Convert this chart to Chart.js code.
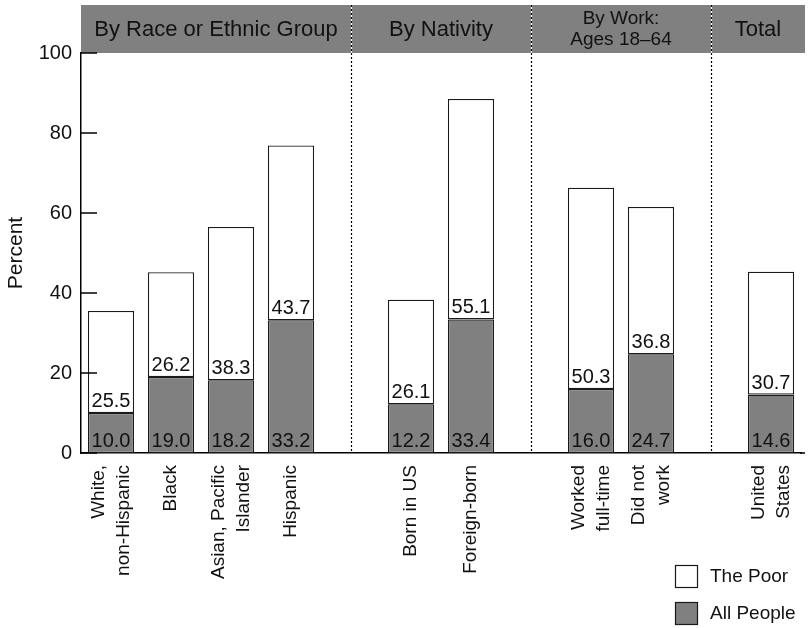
<!DOCTYPE html>
<html>
<head>
<meta charset="utf-8">
<script src="https://cdn.jsdelivr.net/npm/chart.js@4.4.1/dist/chart.umd.min.js"></script>
<style>
  html, body { margin: 0; padding: 0; background: #ffffff; }
  #wrap { width: 808px; height: 628px; }
</style>
</head>
<body>
<div id="wrap"><canvas id="chart" width="808" height="628"></canvas></div>
<script>
// Categories along the x axis; empty strings leave a gap between groups
const categories = [
  ['White,', 'non-Hispanic'], 'Black', ['Asian, Pacific', 'Islander'], 'Hispanic',
  '',
  'Born in US', 'Foreign-born',
  '',
  ['Worked', 'full-time'], ['Did not', 'work'],
  '',
  ['United', 'States']
];

// Percent of all people (grey, bottom segment)
const allPeople = [10.0, 19.0, 18.2, 33.2, null, 12.2, 33.4, null, 16.0, 24.7, null, 14.6];
// Percent of the poor (white, stacked on top)
const thePoor = [25.5, 26.2, 38.3, 43.7, null, 26.1, 55.1, null, 50.3, 36.8, null, 30.7];

// Group headings shown in the band above the plot
const groupTitles = [
  ['By Race or Ethnic Group'],
  ['By Nativity'],
  ['By Work:', 'Ages 18\u201364'],
  ['Total']
];

const yTicks = [0, 20, 40, 60, 80, 100];

const FONT = '"Liberation Sans", Arial, Helvetica, sans-serif';
const INK = '#111111';
const GREY = '#808080';
const EXTEND = 4; // band and baseline run a little past the last slot

Chart.defaults.font.family = FONT;
Chart.defaults.color = INK;

const decorations = {
  id: 'decorations',
  afterDraw(chart) {
    const ctx = chart.ctx;
    const area = chart.chartArea;
    const xs = chart.scales.x;
    const ys = chart.scales.y;
    const rightEdge = area.right + EXTEND;

    ctx.save();
    // baseline extension
    ctx.strokeStyle = '#000000';
    ctx.lineWidth = 1.5;
    ctx.beginPath(); ctx.moveTo(area.right - 1, area.bottom); ctx.lineTo(rightEdge, area.bottom); ctx.stroke();

    // header band
    const bandTop = 5;
    ctx.fillStyle = GREY;
    ctx.fillRect(area.left, bandTop, rightEdge - area.left, area.top - bandTop);

    // group dividers at the empty category slots
    const dividers = [];
    categories.forEach((c, i) => { if (c === '') dividers.push(xs.getPixelForValue(i)); });
    dividers.forEach(px => {
      const x = Math.round(px) + 0.5;
      ctx.setLineDash([]);
      ctx.strokeStyle = '#ffffff';
      ctx.lineWidth = 1.2;
      ctx.beginPath(); ctx.moveTo(x, bandTop); ctx.lineTo(x, area.top); ctx.stroke();
      ctx.setLineDash([2, 2]);
      ctx.strokeStyle = '#000000';
      ctx.beginPath(); ctx.moveTo(x, bandTop); ctx.lineTo(x, area.bottom); ctx.stroke();
    });
    ctx.setLineDash([]);

    // group headings
    const bounds = [area.left, ...dividers, rightEdge];
    ctx.fillStyle = INK;
    ctx.textAlign = 'center';
    ctx.textBaseline = 'middle';
    const midY = (bandTop + area.top) / 2;
    groupTitles.forEach((lines, g) => {
      const cx = (bounds[g] + bounds[g + 1]) / 2;
      if (lines.length === 1) {
        ctx.font = '22px ' + FONT;
        ctx.fillText(lines[0], cx, midY + 1);
      } else {
        ctx.font = '19px ' + FONT;
        lines.forEach((t, j) => ctx.fillText(t, cx, midY + (j - (lines.length - 1) / 2) * 21));
      }
    });

    // inward tick marks on the y axis
    ctx.strokeStyle = '#000000';
    ctx.lineWidth = 1.5;
    yTicks.forEach(v => {
      const y = ys.getPixelForValue(v);
      ctx.beginPath(); ctx.moveTo(area.left, y); ctx.lineTo(area.left + 16, y); ctx.stroke();
    });

    // value labels inside each segment
    ctx.font = '20px ' + FONT;
    ctx.fillStyle = INK;
    ctx.textAlign = 'center';
    ctx.textBaseline = 'alphabetic';
    chart.data.datasets.forEach((ds, d) => {
      const meta = chart.getDatasetMeta(d);
      meta.data.forEach((el, i) => {
        const v = ds.data[i];
        if (v === null || v === undefined) return;
        ctx.fillText(v.toFixed(1), el.x, el.base - 6);
      });
    });

    // rotated category labels
    ctx.font = '19px ' + FONT;
    ctx.textAlign = 'right';
    ctx.textBaseline = 'middle';
    categories.forEach((c, i) => {
      if (c === '') return;
      const lines = Array.isArray(c) ? c : [c];
      const px = xs.getPixelForValue(i);
      ctx.save();
      ctx.translate(px, area.bottom + 12);
      ctx.rotate(-Math.PI / 2);
      lines.forEach((t, j) => ctx.fillText(t, 0, (j - (lines.length - 1) / 2) * 25));
      ctx.restore();
    });

    // legend, bottom right
    const items = chart.data.datasets.slice().reverse();
    ctx.font = '19px ' + FONT;
    ctx.textAlign = 'left';
    ctx.textBaseline = 'middle';
    items.forEach((ds, k) => {
      const bx = 675.5, by = 565.5 + k * 37;
      ctx.fillStyle = ds.backgroundColor;
      ctx.fillRect(bx, by, 22, 22);
      ctx.strokeStyle = '#1a1a1a';
      ctx.lineWidth = 1.2;
      ctx.strokeRect(bx, by, 22, 22);
      ctx.fillStyle = INK;
      ctx.fillText(ds.label, 710, by + 11.5);
    });
    ctx.restore();
  }
};

new Chart(document.getElementById('chart'), {
  type: 'bar',
  data: {
    labels: categories,
    datasets: [
      {
        label: 'All People',
        data: allPeople,
        backgroundColor: GREY,
        borderColor: '#1a1a1a',
        borderWidth: 1.3,
        borderSkipped: false
      },
      {
        label: 'The Poor',
        data: thePoor,
        backgroundColor: '#ffffff',
        borderColor: '#1a1a1a',
        borderWidth: 1.3,
        borderSkipped: false
      }
    ]
  },
  options: {
    responsive: false,
    devicePixelRatio: 1,
    animation: false,
    layout: { padding: { top: 53, right: 3 + EXTEND, left: 0, bottom: 0 } },
    plugins: {
      legend: { display: false },
      tooltip: { enabled: false }
    },
    datasets: {
      bar: { barPercentage: 0.77, categoryPercentage: 1.0 }
    },
    scales: {
      x: {
        stacked: true,
        grid: { display: false, drawTicks: false },
        border: { display: true, color: '#000000', width: 1.5 },
        ticks: { display: false },
        afterFit(scale) { scale.height = 175; }
      },
      y: {
        stacked: true,
        min: 0,
        max: 100,
        afterBuildTicks(scale) { scale.ticks = yTicks.map(v => ({ value: v })); },
        grid: { display: false, drawTicks: false },
        border: { display: true, color: '#000000', width: 1.5 },
        ticks: { padding: 9, color: INK, font: { size: 20 } },
        title: {
          display: true,
          text: 'Percent',
          color: INK,
          font: { size: 21 },
          padding: { top: 4, bottom: 0 }
        },
        afterFit(scale) { scale.width = 81; }
      }
    }
  },
  plugins: [decorations]
});
</script>
</body>
</html>
